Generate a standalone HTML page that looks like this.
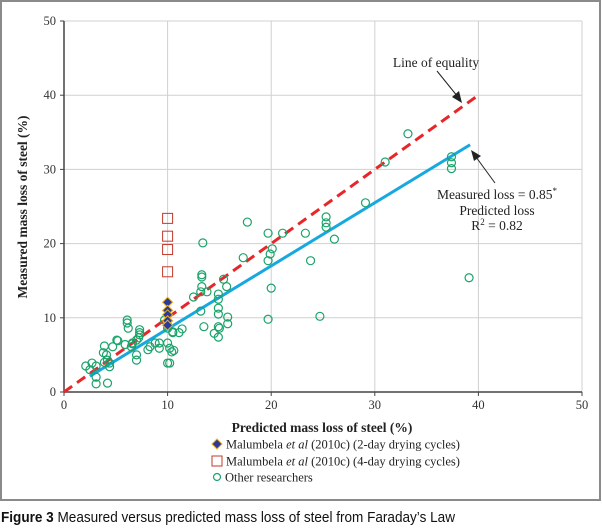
<!DOCTYPE html>
<html><head><meta charset="utf-8">
<style>
html,body{margin:0;padding:0;background:#fff;width:602px;height:532px;overflow:hidden}
svg{display:block}
</style></head>
<body>
<svg id="chart" width="602" height="532" viewBox="0 0 602 532" xmlns="http://www.w3.org/2000/svg" font-family="'Liberation Serif', serif">
<rect x="1" y="1" width="599" height="499" fill="none" stroke="#8a8a8a" stroke-width="2"/>
<g id="grid"></g><g id="axes"></g><g id="lines"></g><g id="marks"></g>
<g id="annot">
<text x="436" y="67" font-size="13.5" text-anchor="middle" fill="#222">Line of equality</text>
<line x1="437" y1="71" x2="458" y2="97" stroke="#222" stroke-width="1"/>
<polygon points="462,103 452,97 459,91" fill="#222"/>
<text x="497" y="199" font-size="13.5" text-anchor="middle" fill="#222">Measured loss = 0.85<tspan font-size="9" dy="-5">*</tspan></text>
<text x="497" y="215" font-size="13.5" text-anchor="middle" fill="#222">Predicted loss</text>
<text x="497" y="230" font-size="13.5" text-anchor="middle" fill="#222">R<tspan font-size="9" dy="-5">2</tspan><tspan dy="5"> = 0.82</tspan></text>
<line x1="495" y1="183" x2="476" y2="157" stroke="#222" stroke-width="1"/>
<polygon points="471,150 481,156 474,161" fill="#222"/>
</g>
<text x="322" y="432" font-size="13.5" font-weight="bold" text-anchor="middle" fill="#222">Predicted mass loss of steel (%)</text>
<text transform="translate(27,207) rotate(-90)" font-size="13.5" font-weight="bold" text-anchor="middle" fill="#222">Measured mass loss of steel (%)</text>
<g>
<g><polygon points="217,439 222,444 217,449 212,444" fill="#2a3a9a" stroke="#e8b020" stroke-width="1"/><text x="226" y="448.5" font-size="12.5" fill="#222">Malumbela <tspan font-style="italic">et al</tspan> (2010c) (2-day drying cycles)</text></g>
<g><rect x="212" y="456" width="10" height="10" fill="none" stroke="#c0392b" stroke-width="1"/><text x="226" y="465.5" font-size="12.5" fill="#222">Malumbela <tspan font-style="italic">et al</tspan> (2010c) (4-day drying cycles)</text></g>
<g><circle cx="217" cy="477" r="3.5" fill="none" stroke="#1aa36a" stroke-width="1.2"/><text x="225" y="481.5" font-size="12.5" fill="#222">Other researchers</text></g>
</g>
<text x="1" y="522" font-family="'Liberation Sans', sans-serif" font-size="14.5" fill="#111" textLength="454" lengthAdjust="spacingAndGlyphs"><tspan font-weight="bold">Figure 3</tspan> Measured versus predicted mass loss of steel from Faraday’s Law</text>
</svg>
<script>
const ticks = [0,10,20,30,40,50];
const tickLabels = ["0","10","20","30","40","50"];
const otherX = [33.2,31.0,37.4,37.4,37.4,17.7,19.7,21.1,23.3,25.3,25.3,25.3,26.1,29.1,13.4,17.3,19.7,19.9,20.1,23.8,20.0,13.3,13.3,13.3,12.5,13.2,13.8,15.4,15.7,14.9,14.9,14.9,14.9,14.9,15.0,14.9,14.5,15.8,15.8,13.2,13.5,19.7,24.7,39.1,10.5,11.1,11.4,10.4,10.6,10.2,6.1,6.1,6.2,7.3,7.3,7.2,7.0,6.6,6.5,6.6,7.3,7.0,7.0,5.1,3.9,3.8,4.1,4.2,3.9,4.4,4.4,3.1,2.1,2.7,3.1,3.1,4.2,4.7,8.3,8.8,9.2,9.2,8.1,10.0,10.0,10.5,10.2,10.0,9.7,10.0,5.9,5.2,2.5];
const otherY = [34.8,31.0,31.7,30.9,30.1,22.9,21.4,21.4,21.4,23.6,22.8,22.2,20.6,25.5,20.1,18.1,17.7,18.6,19.3,17.7,14.0,15.8,15.5,14.2,12.8,13.5,13.5,15.2,14.2,13.2,12.5,11.3,10.5,8.8,8.6,7.4,7.9,10.1,9.2,10.9,8.8,9.8,10.2,15.4,8.0,8.0,8.5,5.4,5.6,3.9,9.7,9.3,8.6,8.4,7.7,7.3,7.0,6.6,6.1,6.5,8.0,5.0,4.3,7.0,6.2,5.3,5.0,4.3,4.0,3.9,3.4,3.5,3.5,3.9,2.0,1.1,1.2,6.1,6.1,6.6,6.6,5.9,5.7,8.6,6.6,8.1,5.9,3.9,9.7,9.0,6.4,6.9,3.0];
const twoDayX = [10,10,10,10,10];
const twoDayY = [12.1,11.0,10.4,9.6,9.0];
const fourDayX = [10,10,10,10];
const fourDayY = [23.4,21.0,19.2,16.2];
const equalityLine = [0,40];
const fitSlope = [0.85];
const fitRange = [2.5,39.2];

const X0=64, X1=582, Y0=392, Y1=21;
const xs = v => X0 + (X1-X0)*v/50;
const ys = v => Y0 - (Y0-Y1)*v/50;
const NS="http://www.w3.org/2000/svg";
function mk(tag, parent, attrs){const e=document.createElementNS(NS,tag);for(const k in attrs)e.setAttribute(k,attrs[k]);parent.appendChild(e);return e;}
const grid=document.getElementById('grid'), axes=document.getElementById('axes'), lines=document.getElementById('lines'), marks=document.getElementById('marks');

ticks.forEach((t,i)=>{
  if(t>0){
    const gx=mk('line',grid,{x1:xs(t),x2:xs(t),y1:Y1,y2:Y0,stroke:'#d0d0d0','stroke-width':1});
    
    
    const gy=mk('line',grid,{x1:X0,x2:X1,y1:ys(t),y2:ys(t),stroke:'#d0d0d0','stroke-width':1});
    
    
  }
  const tx=mk('line',axes,{x1:xs(t),x2:xs(t),y1:Y0,y2:Y0+4,stroke:'#444'});
  
  
  const ty=mk('line',axes,{x1:X0-4,x2:X0,y1:ys(t),y2:ys(t),stroke:'#444'});
  
  
  const lx=mk('text',axes,{x:xs(t),y:Y0+17,'font-size':12.5,'text-anchor':'middle',fill:'#333'});
  lx.textContent=tickLabels[i];
  
  
  const ly=mk('text',axes,{x:X0-8,y:ys(t)+4,'font-size':12.5,'text-anchor':'end',fill:'#333'});
  ly.textContent=tickLabels[i];
  
  
});
const ax=mk('line',axes,{x1:X0,x2:X1,y1:Y0,y2:Y0,stroke:'#444','stroke-width':1.5});


const ay=mk('line',axes,{x1:X0,x2:X0,y1:Y1,y2:Y0,stroke:'#444','stroke-width':1.5});



otherX.forEach((x,i)=>{
  const c=mk('circle',marks,{cx:xs(x),cy:ys(otherY[i]),r:4,fill:'none',stroke:'#1aa36a','stroke-width':1.2});
  
  
});
const el=mk('line',lines,{x1:xs(equalityLine[0]),y1:ys(equalityLine[0]),x2:xs(equalityLine[1]),y2:ys(equalityLine[1]),stroke:'#e8262a','stroke-width':3,'stroke-dasharray':'10,6'});


const fl=mk('line',lines,{x1:xs(fitRange[0]),y1:ys(fitRange[0]*fitSlope[0]),x2:xs(fitRange[1]),y2:ys(fitRange[1]*fitSlope[0]),stroke:'#18a8e0','stroke-width':3});


fourDayX.forEach((x,i)=>{
  const r=mk('rect',marks,{x:xs(x)-5,y:ys(fourDayY[i])-5,width:10,height:10,fill:'none',stroke:'#c0392b','stroke-width':1});
  
  
});
twoDayX.forEach((x,i)=>{
  const cx=xs(x), cy=ys(twoDayY[i]);
  const p=mk('polygon',marks,{points:`${cx},${cy-5} ${cx+5},${cy} ${cx},${cy+5} ${cx-5},${cy}`,fill:'#2a3a9a',stroke:'#e8b020','stroke-width':1});
  
  
});
</script>
</body></html>
